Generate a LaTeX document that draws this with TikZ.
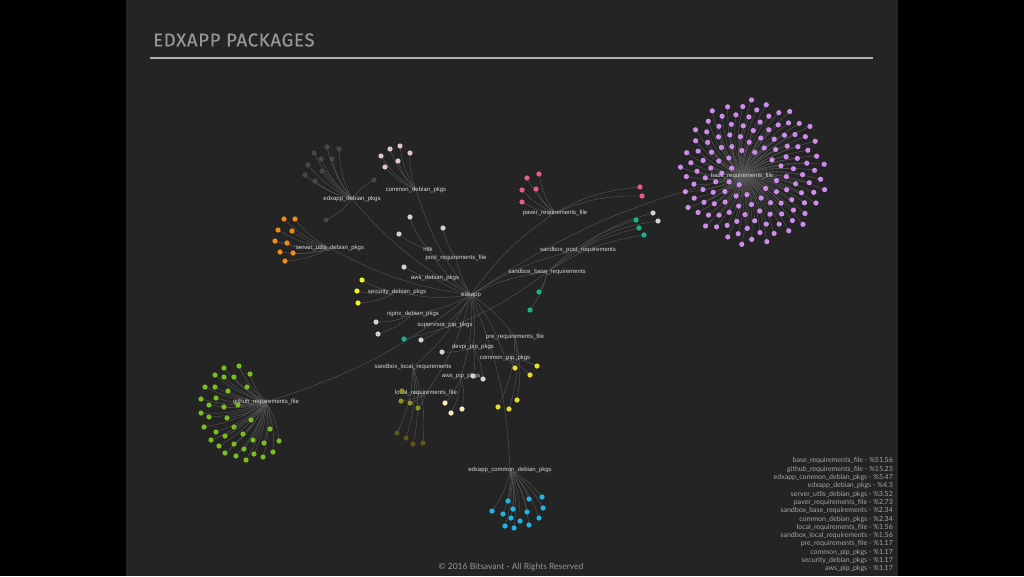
\documentclass[tikz,border=0pt]{standalone}
\usepackage{fontspec}
\setmainfont{Lato}
\newfontfamily\titlefont{Fira Sans}[LetterSpace=4, FakeBold=0.5]
\newfontfamily\labelfont{Liberation Sans}
\usetikzlibrary{backgrounds}

\pgfdeclarelayer{bg}
\pgfdeclarelayer{edges}
\pgfsetlayers{bg,edges,main}

\definecolor{slide}{RGB}{36,36,36}
\definecolor{titlegray}{RGB}{150,150,150}
\definecolor{rulegray}{RGB}{175,175,175}
\definecolor{hubtext}{RGB}{215,215,215}
\definecolor{legendtext}{RGB}{165,165,165}
\definecolor{linkgray}{RGB}{86,86,86}
\definecolor{basepurple}{RGB}{206,140,236}
\definecolor{ghgreen}{RGB}{122,190,30}
\definecolor{ecblue}{RGB}{30,180,232}
\definecolor{edebdark}{RGB}{74,70,64}
\definecolor{cdebpink}{RGB}{226,196,196}
\definecolor{suorange}{RGB}{240,140,20}
\definecolor{paverpink}{RGB}{232,90,140}
\definecolor{sbteal}{RGB}{20,180,140}
\definecolor{secyellow}{RGB}{240,240,40}
\definecolor{pipyellow}{RGB}{228,222,40}
\definecolor{leafgray}{RGB}{210,210,210}
\definecolor{creamy}{RGB}{245,235,190}
\definecolor{olive}{RGB}{150,145,30}
\definecolor{darkolive}{RGB}{92,88,20}

\tikzstyle{hub} = [font=\labelfont\fontsize{6}{7}\selectfont, text=hubtext, inner sep=0.5pt]
\tikzstyle{leaf} = [circle, inner sep=0pt, minimum size=5.2pt]
\tikzstyle{link} = [draw=linkgray, line width=0.4pt]
\tikzstyle{legend} = [font=\fontsize{7}{8}\selectfont, text=legendtext, anchor=east, inner sep=0pt]

% leaves of one hub: hub, prefix, colour, list of points
\newcommand{\leafgroup}[4]{%
  \foreach \x/\y [count=\i] in {#4}
    \node[leaf, fill=#3] (#2-\i) at (\x,\y) {};
  \begin{pgfonlayer}{edges}
  \foreach \x/\y [count=\i] in {#4}
    \draw[link] (#1.center) to[bend left=12] (#2-\i.center);
  \end{pgfonlayer}%
}

\begin{document}
\begin{tikzpicture}[x=1pt,y=-1pt]

\begin{pgfonlayer}{bg}
\fill[black] (0,0) rectangle (1024,576);
\fill[slide] (126,0) rectangle (898,576);
\end{pgfonlayer}
\useasboundingbox (0,0) rectangle (1024,576);

% title
\node[font=\titlefont\fontsize{18.5}{22}\selectfont, text=titlegray, anchor=west, inner sep=0pt] (title) at (153,40) {EDXAPP PACKAGES};
\draw[rulegray, line width=1.3pt] (150,58) -- (873,58);

% hubs
\node[hub] (edxapp) at (471,295) {edxapp};
\node[hub] (base) at (742,176) {base\_requirements\_file};
\node[hub] (github) at (266,402) {github\_requirements\_file};
\node[hub] (ecdeb) at (510,470) {edxapp\_common\_debian\_pkgs};
\node[hub] (edeb) at (352,199) {edxapp\_debian\_pkgs};
\node[hub] (cdeb) at (416,190) {common\_debian\_pkgs};
\node[hub] (sudeb) at (330,248) {server\_utils\_debian\_pkgs};
\node[hub] (paver) at (555,213) {paver\_requirements\_file};
\node[hub] (sbpost) at (578,250) {sandbox\_post\_requirements};
\node[hub] (sbbase) at (547,272) {sandbox\_base\_requirements};
\node[hub] (nltk) at (428,249) {nltk};
\node[hub] (postreq) at (456,258) {post\_requirements\_file};
\node[hub] (awsdeb) at (435,278) {aws\_debian\_pkgs};
\node[hub] (secdeb) at (397,292) {security\_debian\_pkgs};
\node[hub] (nginx) at (413,314) {nginx\_debian\_pkgs};
\node[hub] (supip) at (445,325) {supervisor\_pip\_pkgs};
\node[hub] (prereq) at (515,337) {pre\_requirements\_file};
\node[hub] (devpi) at (473,347) {devpi\_pip\_pkgs};
\node[hub] (cpip) at (505,358) {common\_pip\_pkgs};
\node[hub] (sblocal) at (413,367) {sandbox\_local\_requirements};
\node[hub] (awspip) at (461,376) {aws\_pip\_pkgs};
\node[hub] (localreq) at (426,393) {local\_requirements\_file};

% edxapp to hubs
\begin{pgfonlayer}{edges}
\foreach \h in {base,github,ecdeb,edeb,cdeb,sudeb,paver,sbpost,sbbase,nltk,postreq,awsdeb,secdeb,nginx,supip,prereq,devpi,cpip,sblocal,awspip,localreq}
  \draw[link] (edxapp.center) to[bend left=10] (\h.center);
\end{pgfonlayer}

% base_requirements_file leaves
\foreach \i in {1,...,132} {
  \pgfmathsetmacro\r{74*sqrt((\i+8)/140)}
  \pgfmathsetmacro\a{360*(\i*0.381966-floor(\i*0.381966))}
  \node[leaf, fill=basepurple] (base-\i) at ([shift={(\a:\r)}]753,172) {};
}
\begin{pgfonlayer}{edges}
\foreach \i in {1,...,132}
  \draw[link] (base.center) to[bend left=12] (base-\i.center);
\end{pgfonlayer}

\leafgroup{github}{gh}{ghgreen}{224/368,239/366,215/375,224/377,234/377,250/374,205/387,215/387,228/391,247/387,201/399,216/398,209/405,224/407,238/405,201/413,209/417,227/418,251/420,204/427,216/432,234/427,243/434,270/429,211/440,225/436,253/440,264/443,279/441,219/446,234/444,244/449,225/453,236/456,254/454,263/457,273/452,246/460}
\leafgroup{ecdeb}{ec}{ecblue}{508/501,529/499,542/497,492/511,503/514,513/509,527/512,543/508,511/518,520/521,539/518,505/526,514/528,529/525}
\leafgroup{edeb}{ed}{edebdark}{327/147,339/149,314/153,321/159,332/159,308/165,322/171,305/175,315/181,374/180,326/220}
\leafgroup{cdeb}{cd}{cdebpink}{400/146,390/149,410/153,381/156,398/161,385/167}
\leafgroup{sudeb}{su}{suorange}{284/219,295/219,278/230,292/231,275/241,287/243,293/253,280/252,285/261}
\leafgroup{paver}{pv}{paverpink}{527/178,539/174,522/190,536/189,522/202,640/187,642/196}
\leafgroup{sbbase}{sb}{sbteal}{404/339,539/292,530/310,636/220,639/228,644/235}
\leafgroup{sbpost}{sp}{leafgray}{653/213,658/221}
\leafgroup{nltk}{nl}{leafgray}{410/217,399/234}
\leafgroup{postreq}{pr}{leafgray}{443/228}
\leafgroup{awsdeb}{ad}{leafgray}{404/267}
\leafgroup{nginx}{ng}{leafgray}{376/322,378/334}
\leafgroup{supip}{sv}{leafgray}{421/340}
\leafgroup{devpi}{dv}{leafgray}{442/352,473/376,483/379}
\leafgroup{secdeb}{se}{secyellow}{362/280,357/291,358/303}
\leafgroup{cpip}{cp}{pipyellow}{515/368,537/366,530/375}
\leafgroup{prereq}{pq}{pipyellow}{517/400,498/407,509/409}
\leafgroup{awspip}{ap}{creamy}{445/403,462/409,451/413}
\leafgroup{localreq}{lr}{olive}{402/391,401/401,410/403,418/408}
\leafgroup{sblocal}{sl}{darkolive}{397/433,406/438,413/444,423/443}

% legend
\foreach \t [count=\i] in {base\_requirements\_file - \%51.56, github\_requirements\_file - \%15.23, edxapp\_common\_debian\_pkgs - \%5.47, edxapp\_debian\_pkgs - \%4.3, server\_utils\_debian\_pkgs - \%3.52, paver\_requirements\_file - \%2.73, sandbox\_base\_requirements - \%2.34, common\_debian\_pkgs - \%2.34, local\_requirements\_file - \%1.56, sandbox\_local\_requirements - \%1.56, pre\_requirements\_file - \%1.17, common\_pip\_pkgs - \%1.17, security\_debian\_pkgs - \%1.17, aws\_pip\_pkgs - \%1.17}
  \node[legend] (leg-\i) at (893,{461+8.3*(\i-1)}) {\t};

\node[font=\fontsize{8.5}{10}\selectfont, text=titlegray, inner sep=0pt] (copy) at (511,567) {© 2016 Bitsavant - All Rights Reserved};

\end{tikzpicture}
\end{document}
